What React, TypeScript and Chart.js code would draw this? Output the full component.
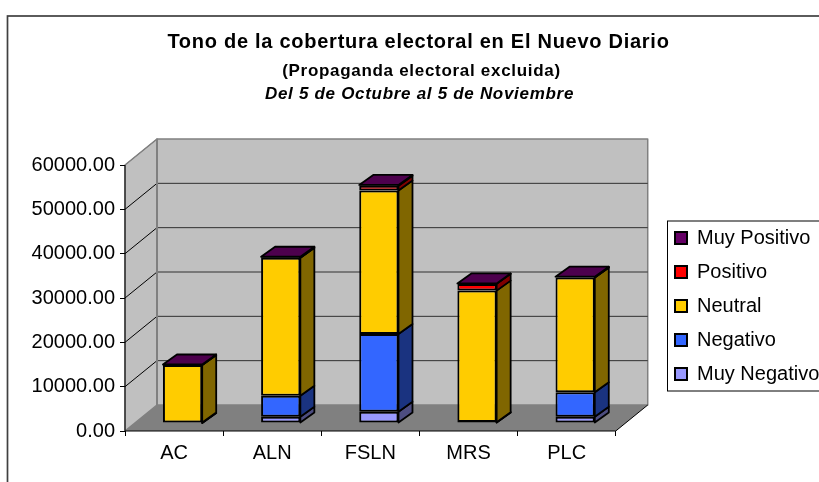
import React, { useEffect, useRef } from "react";
import { Chart, registerables } from "chart.js";

Chart.register(...registerables);

const categories = ["AC", "ALN", "FSLN", "MRS", "PLC"];
const muyNegativo = [0, 1400, 2550, 100, 1400];
const negativo = [0, 4760, 17540, 100, 5530];
const neutral = [13100, 31090, 32350, 29660, 25870];
const positivo = [0, 0, 1060, 1520, 0];
const muyPositivo = [100, 250, 200, 100, 200];

const titleLine = "Tono de la cobertura electoral en El Nuevo Diario";
const subtitleLine = "(Propaganda electoral excluida)";
const dateLine = "Del 5 de Octubre al 5 de Noviembre";

const FONT = "'Liberation Sans', Arial, sans-serif";
const WALL_DX = 32;
const WALL_DY = -26;
const BAR_FRONT_DX = 8.5;
const BAR_FRONT_DY = -8;
const BAR_DEPTH_DX = 14;
const BAR_DEPTH_DY = -10;

const sideColors = ["#4d4d80", "#1a3380", "#806600", "#800000", "#4d004d"];
const topColor = "#4d004d";

function poly(ctx: CanvasRenderingContext2D, pts: number[][], fill: string, stroke?: string, lw = 1) {
  ctx.beginPath();
  pts.forEach((p, i) => (i ? ctx.lineTo(p[0], p[1]) : ctx.moveTo(p[0], p[1])));
  ctx.closePath();
  ctx.fillStyle = fill;
  ctx.fill();
  if (stroke) {
    ctx.strokeStyle = stroke;
    ctx.lineWidth = lw;
    ctx.lineJoin = "round";
    ctx.stroke();
  }
}

function line(ctx: CanvasRenderingContext2D, x1: number, y1: number, x2: number, y2: number, c: string, lw: number) {
  ctx.beginPath();
  ctx.moveTo(x1, y1);
  ctx.lineTo(x2, y2);
  ctx.strokeStyle = c;
  ctx.lineWidth = lw;
  ctx.stroke();
}

const box3d = {
  id: "box3d",
  afterLayout(chart: any) {
    const lg = chart.legend;
    const w = lg.width;
    const h = lg.height;
    lg.left = 661;
    lg.top = 214;
    lg.right = lg.left + w;
    lg.bottom = lg.top + h;
  },
  beforeDraw(chart: any) {
    const ctx: CanvasRenderingContext2D = chart.ctx;
    const { left, right, top, bottom } = chart.chartArea;
    const y = chart.scales.y;
    ctx.save();
    ctx.fillStyle = "#ffffff";
    ctx.fillRect(0, 0, chart.width, chart.height);
    ctx.strokeStyle = "#404040";
    ctx.lineWidth = 1.7;
    ctx.strokeRect(7.5, 16, 900, 600);
    // back wall and side wall
    poly(ctx, [[left + WALL_DX, top + WALL_DY], [right + WALL_DX, top + WALL_DY], [right + WALL_DX, bottom + WALL_DY], [left + WALL_DX, bottom + WALL_DY]], "#c0c0c0", "#808080", 1.5);
    poly(ctx, [[left, top], [left + WALL_DX, top + WALL_DY], [left + WALL_DX, bottom + WALL_DY], [left, bottom]], "#c0c0c0", "#808080", 1.5);
    // floor
    poly(ctx, [[left, bottom], [left + WALL_DX, bottom + WALL_DY], [right + WALL_DX, bottom + WALL_DY], [right, bottom]], "#808080");
    // gridlines
    y.ticks.forEach((t: any) => {
      const py = y.getPixelForValue(t.value);
      if (t.value > 0) {
        line(ctx, left, py, left + WALL_DX, py + WALL_DY, t.value === 60000 ? "#808080" : "#000000", 1);
        if (t.value < 60000) line(ctx, left + WALL_DX, py + WALL_DY, right + WALL_DX, py + WALL_DY, "#303030", 1);
      }
    });
    line(ctx, left + WALL_DX, top + WALL_DY, left + WALL_DX, bottom + WALL_DY, "#808080", 2);
    line(ctx, left, top, left, bottom, "#000000", 1);
    line(ctx, right, bottom, right + WALL_DX, bottom + WALL_DY, "#000000", 1);
    ctx.restore();
  },
  beforeDatasetsDraw(chart: any) {
    const ctx: CanvasRenderingContext2D = chart.ctx;
    const n = chart.data.labels.length;
    const lw = 1.8;
    ctx.save();
    ctx.translate(BAR_FRONT_DX, BAR_FRONT_DY);
    for (let i = 0; i < n; i++) {
      chart.data.datasets.forEach((_: any, d: number) => {
        const b = chart.getDatasetMeta(d).data[i];
        const r = b.x + b.width / 2;
        const t = b.y;
        const bs = b.base;
        poly(ctx, [[r, t], [r + BAR_DEPTH_DX, t + BAR_DEPTH_DY], [r + BAR_DEPTH_DX, bs + BAR_DEPTH_DY], [r, bs]], sideColors[d], "#000000", lw);
      });
      const last = chart.getDatasetMeta(chart.data.datasets.length - 1).data[i];
      const l = last.x - last.width / 2;
      const r = last.x + last.width / 2;
      poly(ctx, [[l, last.y], [l + BAR_DEPTH_DX, last.y + BAR_DEPTH_DY], [r + BAR_DEPTH_DX, last.y + BAR_DEPTH_DY], [r, last.y]], topColor, "#000000", lw);
    }
    // library bars follow, drawn in the same offset plane
  },
  afterDatasetsDraw(chart: any) {
    chart.ctx.restore();
  },
  afterDraw(chart: any) {
    const ctx: CanvasRenderingContext2D = chart.ctx;
    const { left, right, bottom } = chart.chartArea;
    ctx.save();
    line(ctx, left, bottom, right, bottom, "#000000", 1);
    ctx.fillStyle = "#000000";
    ctx.textAlign = "center";
    ctx.textBaseline = "middle";
    (ctx as any).letterSpacing = "0.73px";
    ctx.font = `bold 20px ${FONT}`;
    ctx.fillText(titleLine, 418.5, 42.5);
    (ctx as any).letterSpacing = "0.7px";
    ctx.font = `bold 17px ${FONT}`;
    ctx.fillText(subtitleLine, 421.5, 71);
    ctx.font = `italic bold 17px ${FONT}`;
    ctx.fillText(dateLine, 419.5, 94);
    ctx.strokeStyle = "#000000";
    ctx.lineWidth = 1;
    ctx.strokeRect(667.5, 221, 170, 170);
    ctx.restore();
  },
};

export default function App() {
  const ref = useRef<HTMLCanvasElement>(null);
  useEffect(() => {
    const mk = (label: string, data: number[], color: string) => ({
      label,
      data,
      backgroundColor: color,
      borderColor: "#000000",
      borderWidth: 2,
      borderSkipped: false,
      stack: "s",
      categoryPercentage: 0.4,
      barPercentage: 1,
    });
    const chart = new Chart(ref.current!, {
      type: "bar",
      data: {
        labels: categories,
        datasets: [
          mk("Muy Negativo", muyNegativo, "#9999ff"),
          mk("Negativo", negativo, "#3366ff"),
          mk("Neutral", neutral, "#ffcc00"),
          mk("Positivo", positivo, "#ff0000"),
          mk("Muy Positivo", muyPositivo, "#660066"),
        ],
      },
      options: {
        animation: false,
        responsive: false,
        layout: { padding: { top: 165, right: 35, left: 0, bottom: 0 } },
        scales: {
          x: {
            stacked: true,
            grid: { display: true, offset: true, drawOnChartArea: false, drawTicks: true, tickLength: 5, color: "#000000" },
            border: { display: false },
            afterFit: (s: any) => { s.height = 51; },
            ticks: { color: "#000000", font: { family: FONT, size: 20 }, padding: 5 },
          },
          y: {
            stacked: true,
            min: 0,
            max: 60000,
            grid: { display: true, drawOnChartArea: false, drawTicks: true, tickLength: 5, color: "#000000" },
            border: { display: false },
            afterFit: (s: any) => { s.width = 125; },
            ticks: {
              stepSize: 10000,
              color: "#000000",
              font: { family: FONT, size: 20 },
              padding: 5,
              callback: (v: any) => Number(v).toFixed(2),
            },
          },
        },
        plugins: {
          title: { display: false },
          tooltip: { enabled: false },
          legend: {
            display: true,
            position: "right",
            align: "start",
            reverse: true,
            labels: {
              color: "#000000",
              font: { family: FONT, size: 20 },
              boxWidth: 12,
              boxHeight: 12,
              padding: 14,
            },
          },
        },
      },
      plugins: [box3d],
    } as any);
    return () => chart.destroy();
  }, []);
  return (
    <div style={{ position: "fixed", left: 0, top: 0, width: 819, height: 482 }}>
      <canvas ref={ref} width={819} height={482} style={{ display: "block" }} />
    </div>
  );
}
